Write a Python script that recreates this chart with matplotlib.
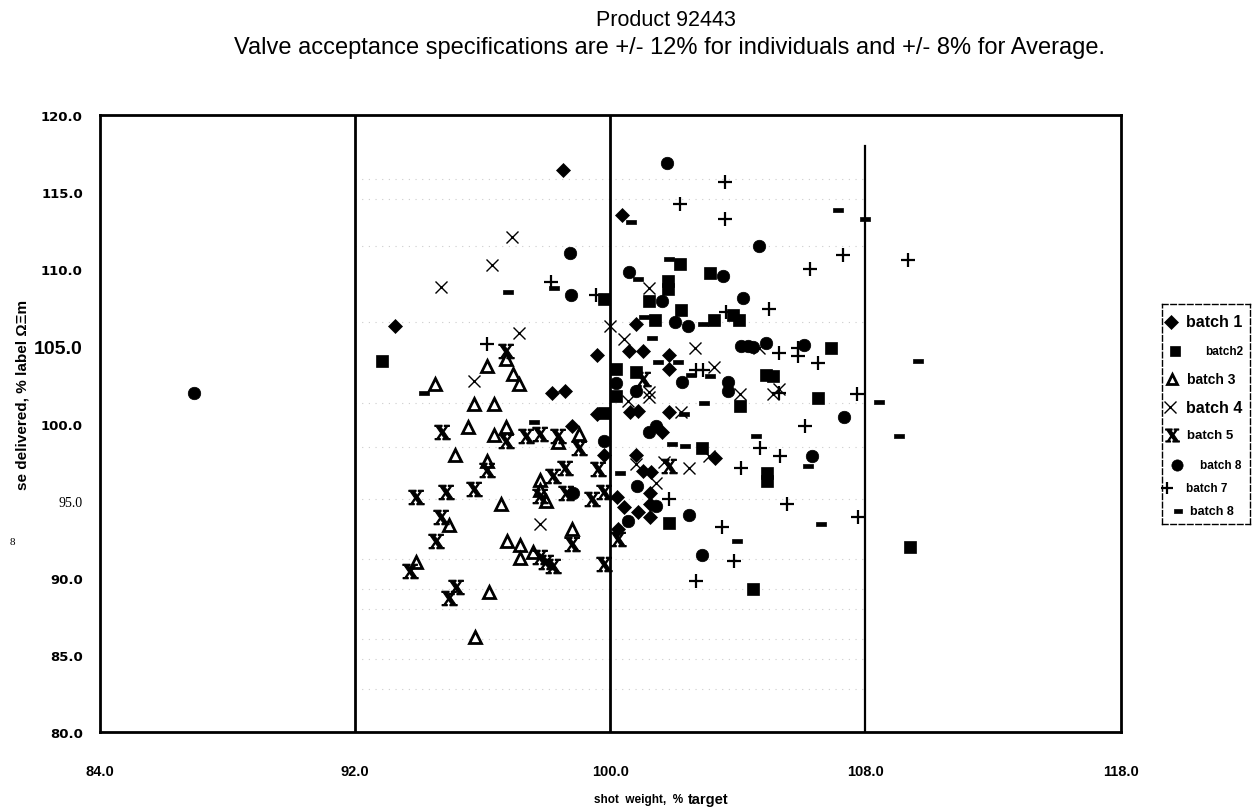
import numpy as np
import matplotlib
matplotlib.use("Agg")
import matplotlib.pyplot as plt

plt.rcParams['font.family'] = ['Liberation Sans', 'DejaVu Sans']
plt.rcParams['mathtext.fontset'] = 'dejavuserif'

# shot weight (% target), dose delivered (% label) per batch
b1_x = [98.52, 100.37, 93.27, 100.81, 99.58, 100.6, 101.02, 98.17, 98.59, 99.6, 100.62, 100.86,
        101.83, 98.8, 99.82, 101.63, 103.3, 100.81, 101.02, 101.28, 101.25, 100.22, 100.45,
        100.86, 101.25, 101.25, 100.24, 101.83, 101.83]
b1_y = [116.46, 113.5, 106.3, 106.44, 104.47, 104.69, 104.69, 101.98, 102.09, 100.62, 100.73, 100.84,
        100.77, 99.82, 97.97, 99.48, 97.77, 97.97, 96.94, 96.88, 95.5, 95.22, 94.57,
        94.29, 93.93, 94.79, 93.17, 104.47, 103.54]

b2_x = [92.86, 99.8, 100.19, 100.81, 100.19, 99.82, 102.2, 101.8, 101.8, 101.21, 103.14, 102.22,
        101.42, 103.24, 103.84, 104.05, 106.92, 104.88, 105.09, 104.08, 106.5, 102.87, 104.91,
        104.91, 101.86, 104.49, 109.4]
b2_y = [104.04, 108.08, 103.54, 103.32, 101.81, 100.7, 110.34, 109.26, 108.72, 107.93, 109.74, 107.38,
        106.71, 106.73, 107.04, 106.73, 104.9, 103.15, 103.07, 101.12, 101.66, 98.42, 96.8,
        96.3, 93.56, 89.28, 91.98]

b3_x = [96.74, 96.15, 96.95, 94.52, 97.16, 95.75, 96.35, 95.54, 96.35, 96.74, 98.38, 99.01, 95.15,
        96.15, 97.79, 97.79, 98.0, 96.57, 94.95, 98.81, 96.77, 97.19, 97.19, 97.58, 93.93, 96.19, 95.77]
b3_y = [104.19, 103.75, 103.2, 102.57, 102.57, 101.27, 101.27, 99.76, 99.26, 99.8, 98.79, 99.33, 97.97,
        97.6, 96.37, 95.66, 95.0, 94.79, 93.45, 93.13, 92.41, 92.13, 91.29, 91.66, 91.05, 89.06, 86.15]

b4_x = [96.92, 96.31, 94.69, 100.0, 100.43, 97.16, 95.72, 101.21, 102.66, 104.65, 103.26, 101.23,
        101.23, 104.08, 105.09, 105.3, 100.55, 102.22, 103.09, 100.81, 101.68, 102.48, 101.44, 97.79]
b4_y = [112.07, 110.3, 108.87, 106.35, 105.48, 105.87, 102.74, 108.79, 104.9, 104.88, 103.69, 102.03,
        101.7, 101.92, 101.92, 102.24, 101.48, 100.77, 97.92, 97.38, 97.53, 97.1, 96.15, 93.49]

b5_x = [96.74, 101.02, 94.73, 96.74, 97.37, 97.79, 98.38, 99.01, 96.15, 97.79, 98.2, 98.6, 99.61,
        98.62, 99.43, 99.82, 93.93, 94.85, 95.75, 94.71, 98.81, 100.24, 94.53, 97.79, 98.0, 98.2,
        99.82, 93.72, 95.16, 94.95, 101.86]
b5_y = [104.72, 102.9, 99.43, 98.85, 99.17, 99.33, 99.22, 98.42, 97.01, 95.33, 96.57, 97.12, 97.06,
        95.5, 95.11, 95.55, 95.22, 95.55, 95.76, 93.97, 92.2, 92.52, 92.37, 91.33, 91.05, 90.79,
        90.9, 90.43, 89.43, 88.7, 97.27]

b6_x = [98.75, 98.76, 100.58, 101.78, 104.65, 103.55, 101.63, 104.16, 102.04, 102.43, 104.1, 104.31,
        104.49, 104.88, 106.08, 100.19, 102.25, 103.68, 103.68, 100.81, 107.33, 101.44, 101.23, 99.82,
        106.32, 100.84, 98.85, 101.44, 100.55, 102.46, 102.88, 86.96]
b6_y = [111.06, 108.33, 109.84, 116.89, 111.53, 109.59, 107.97, 108.14, 106.6, 106.3, 105.01, 105.05,
        104.95, 105.22, 105.11, 102.63, 102.72, 102.72, 102.13, 102.09, 100.41, 99.86, 99.44, 98.85,
        97.92, 95.98, 95.5, 94.68, 93.71, 94.1, 91.48, 101.96]

b7_x = [103.61, 102.19, 103.61, 107.3, 109.34, 106.27, 98.15, 99.56, 104.97, 103.63, 96.14, 105.3,
        105.9, 105.9, 106.5, 102.69, 102.9, 105.3, 107.75, 106.11, 104.7, 105.33, 104.1, 101.86,
        105.53, 107.77, 103.5, 103.89, 102.69]
b7_y = [115.64, 114.23, 113.26, 110.93, 110.62, 110.02, 109.2, 108.33, 107.43, 107.21, 105.16, 104.58,
        104.88, 104.4, 103.93, 103.49, 103.49, 101.98, 101.92, 99.86, 98.4, 97.92, 97.12, 95.11,
        94.79, 93.93, 93.32, 91.11, 89.78]

b8_x = [100.66, 100.86, 96.81, 98.23, 107.15, 107.98, 101.86, 101.07, 102.92, 101.3, 109.65, 101.49,
        102.12, 102.53, 103.14, 94.17, 97.63, 100.32, 102.95, 102.33, 108.41, 101.93, 102.35, 104.57,
        106.21, 106.62, 103.98, 109.05]
b8_y = [113.05, 109.37, 108.55, 108.8, 113.82, 113.26, 110.67, 106.89, 106.45, 105.53, 104.04, 104.01,
        104.01, 103.15, 103.1, 101.98, 100.12, 96.78, 101.33, 100.62, 101.38, 98.68, 98.53, 99.17,
        97.27, 93.49, 92.37, 99.22]

x_ticks = [84, 92, 100, 108, 116]
x_tick_labels = ['84.0', '92.0', '100.0', '108.0', '118.0']
y_ticks = [80, 85, 90, 95, 100, 105, 110, 115, 120]
y_tick_labels = ['80.0', '85.0', '90.0', '95.0', '100.0', '105.0', '110.0', '115.0', '120.0']
spec_lines = [92, 100, 108]
grid_rows = [115.85, 114.56, 111.5, 106.6, 101.3, 98.5, 95.1, 91.2, 89.3, 88.0, 86.0, 84.7, 82.8]

dash = [(-1, -0.42), (1, -0.42), (1, 0.42), (-1, 0.42), (-1, -0.42)]
star_x = r'$\mathbf{X}$'

styles = [
    dict(marker='D', ms=7.5, mfc='black', mec='black', mew=0.5),
    dict(marker='s', ms=8, mfc='black', mec='black', mew=0.5),
    dict(marker='^', ms=8.5, mfc='white', mec='black', mew=2),
    dict(marker='x', ms=9, mec='black', mew=1),
    dict(marker=star_x, ms=11, mfc='black', mec='black', mew=0.8),
    dict(marker='o', ms=9, mfc='black', mec='black', mew=0.5),
    dict(marker='+', ms=10, mec='black', mew=1.6),
    dict(marker=dash, ms=7, mfc='black', mec='black', mew=0.5),
]
series = [(b1_x, b1_y), (b2_x, b2_y), (b3_x, b3_y), (b4_x, b4_y),
          (b5_x, b5_y), (b6_x, b6_y), (b7_x, b7_y), (b8_x, b8_y)]

fig = plt.figure(figsize=(12.58, 8.12), dpi=100)
ax = fig.add_axes([0.0791, 0.0973, 0.8118, 0.7598])
ax.set_xlim(84, 116)
ax.set_ylim(80, 120)

# faint remnants of the old grid between the spec limits
ax.hlines(grid_rows, 92, 108, colors='#cccccc', linestyles=(0, (1, 5)), lw=0.8, zorder=0)

ax.axvline(spec_lines[0], color='black', lw=2, zorder=1)
ax.axvline(spec_lines[1], color='black', lw=2, zorder=1)
ax.axvline(spec_lines[2], ymax=0.95, color='black', lw=1.6, zorder=1)

for (xs, ys), st in zip(series, styles):
    ax.plot(xs, ys, ls='none', zorder=3, **st)

for sp in ax.spines.values():
    sp.set_linewidth(2)

ax.set_xticks(x_ticks)
ax.set_xticklabels(x_tick_labels, fontsize=10.5, fontweight='bold')
ax.set_yticks(y_ticks)
ax.set_yticklabels(y_tick_labels, fontsize=9.5, fontweight='bold', family=['DejaVu Sans'])
ax.tick_params(axis='x', length=0, pad=23)
ax.tick_params(axis='y', length=0, pad=12)
for lab in ax.get_yticklabels():
    if lab.get_text() == '105.0':
        lab.set_fontsize(14)
        lab.set_family(['Liberation Sans Narrow', 'Liberation Sans'])
    elif lab.get_text() == '95.0':
        lab.set_fontweight('normal')
        lab.set_fontsize(10)
        lab.set_family(['Liberation Serif', 'DejaVu Serif'])
for lab in ax.get_xticklabels():
    lab.set_family(['Liberation Sans Narrow', 'Liberation Sans'])

fig.text(0.529, 0.975, 'Product 92443', ha='center', va='center', fontsize=15.5)
fig.text(0.532, 0.941,
         'Valve acceptance specifications are +/- 12% for individuals and +/- 8% for Average.',
         ha='center', va='center', fontsize=17)

fig.text(0.543, 0.0148, 'shot  weight,  %', ha='right', va='center', fontsize=8.5, fontweight='bold')
fig.text(0.547, 0.0148, 'target', ha='left', va='center', fontsize=10.5, fontweight='bold')
fig.text(0.0175, 0.5135, 'se delivered, % label \u03a9\u039em', rotation=90, ha='center', va='center',
         fontsize=11, fontweight='bold', family=['Liberation Sans Narrow', 'Liberation Sans'])
fig.text(0.0095, 0.3325, '8', ha='center', va='center', fontsize=8, family=['Liberation Serif', 'DejaVu Serif'])

# legend panel, laid out in pixel units
leg = fig.add_axes([0.9237, 0.3534, 0.07, 0.271])
leg.set_xlim(1162, 1250)
leg.set_ylim(525, 305)
leg.set_xticks([])
leg.set_yticks([])
for sp in leg.spines.values():
    sp.set_linestyle((0, (4, 2)))
    sp.set_linewidth(1)

leg_rows = [
    ('batch 1', 323, 1171, 1186, 11.5),
    ('batch2', 352, 1175, 1205, 8.5),
    ('batch 3', 380, 1172, 1187, 10),
    ('batch 4', 408, 1170, 1186, 11.5),
    ('batch 5', 436, 1172, 1187, 9.5),
    ('batch 8', 466, 1177, 1200, 8.5),
    ('batch 7', 489, 1167, 1186, 8.5),
    ('batch 8', 512, 1178, 1190, 9),
]
for (label, yy, mx, tx, fs), st in zip(leg_rows, styles):
    st2 = dict(st)
    st2['ms'] = st['ms'] * 0.9
    leg.plot([mx], [yy], ls='none', clip_on=False, **st2)
    leg.text(tx, yy, label, ha='left', va='center', fontsize=fs, fontweight='bold')

fig.savefig('out.png', dpi=100)
